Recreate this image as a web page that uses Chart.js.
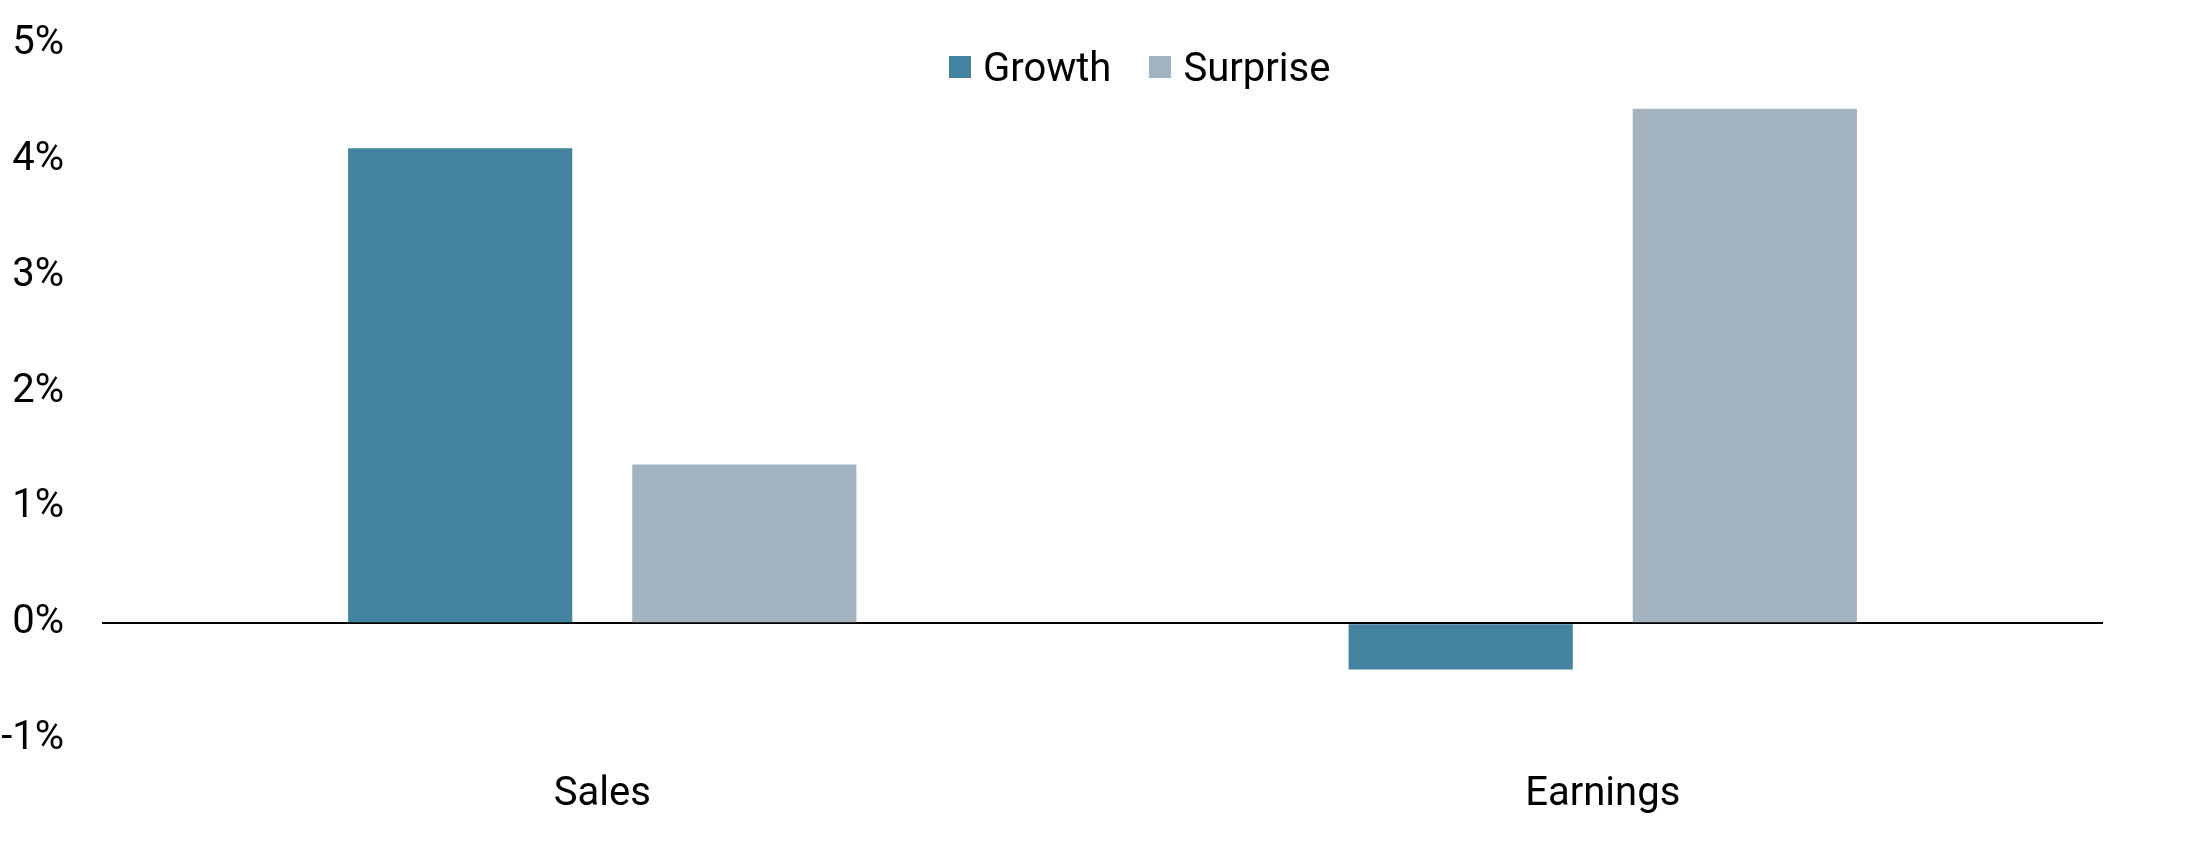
<!DOCTYPE html>
<html>
<head>
<meta charset="utf-8">
<script src="https://cdn.jsdelivr.net/npm/chart.js@4/dist/chart.umd.min.js"></script>
<style>
    html, body { margin: 0; padding: 0; background: #fff; }
    .wrap { position: relative; width: 2200px; height: 850px; }
    .legend {
        position: absolute; left: 949px; top: 43px; height: 48px;
        display: flex; align-items: center;
        font-family: Roboto, sans-serif; font-size: 40px; color: #000;
    }
    .legend .item { display: flex; align-items: center; margin-right: 38px; }
    .legend .box { width: 22px; height: 22px; margin-right: 12px; }
</style>
</head>
<body>
<div class="wrap">
    <canvas id="chart" width="2200" height="850"></canvas>
    <div class="legend" id="legend"></div>
</div>
<script>
// data
const categories = ['Sales', 'Earnings'];
const growth = [4.10, -0.40];
const surprise = [1.37, 4.44];
const seriesNames = ['Growth', 'Surprise'];
const seriesColors = ['#44839F', '#A2B3BF'];
const yTicks = [-1, 0, 1, 2, 3, 4, 5];

const font = { family: 'Roboto', size: 40 };

// legend in html, sits over the top of the plot like the original
const legendEl = document.getElementById('legend');
seriesNames.forEach((name, i) => {
    const item = document.createElement('div');
    item.className = 'item';
    item.innerHTML = '<div class="box" style="background:' + seriesColors[i] + '"></div>' + name;
    legendEl.appendChild(item);
});

const ctx = document.getElementById('chart').getContext('2d');
new Chart(ctx, {
    type: 'bar',
    data: {
        labels: categories,
        datasets: [
            { label: seriesNames[0], data: growth, backgroundColor: seriesColors[0] },
            { label: seriesNames[1], data: surprise, backgroundColor: seriesColors[1] }
        ]
    },
    options: {
        responsive: false,
        animation: false,
        categoryPercentage: 0.568,
        barPercentage: 0.789,
        layout: { padding: { left: 0, right: 97, top: 44, bottom: 0 } },
        plugins: {
            legend: { display: false },
            tooltip: { enabled: false }
        },
        scales: {
            x: {
                grid: { display: false },
                border: { display: false },
                afterFit: (scale) => {
                    scale.height = 111;
                    scale.paddingLeft = 0;
                    scale.paddingRight = 0;
                },
                ticks: { color: '#000', font: font, padding: 24 }
            },
            y: {
                min: -1,
                max: 5,
                afterBuildTicks: (scale) => { scale.ticks = yTicks.map(v => ({ value: v })); },
                afterFit: (scale) => {
                    scale.width = 102;
                    scale.paddingTop = 0;
                    scale.paddingBottom = 0;
                },
                border: { display: false },
                grid: {
                    drawTicks: false,
                    color: (c) => c.tick && c.tick.value === 0 ? '#000' : 'rgba(0,0,0,0)',
                    lineWidth: 2
                },
                ticks: {
                    color: '#000',
                    font: font,
                    padding: 38,
                    callback: (v) => v + '%'
                }
            }
        }
    }
});
</script>
</body>
</html>
